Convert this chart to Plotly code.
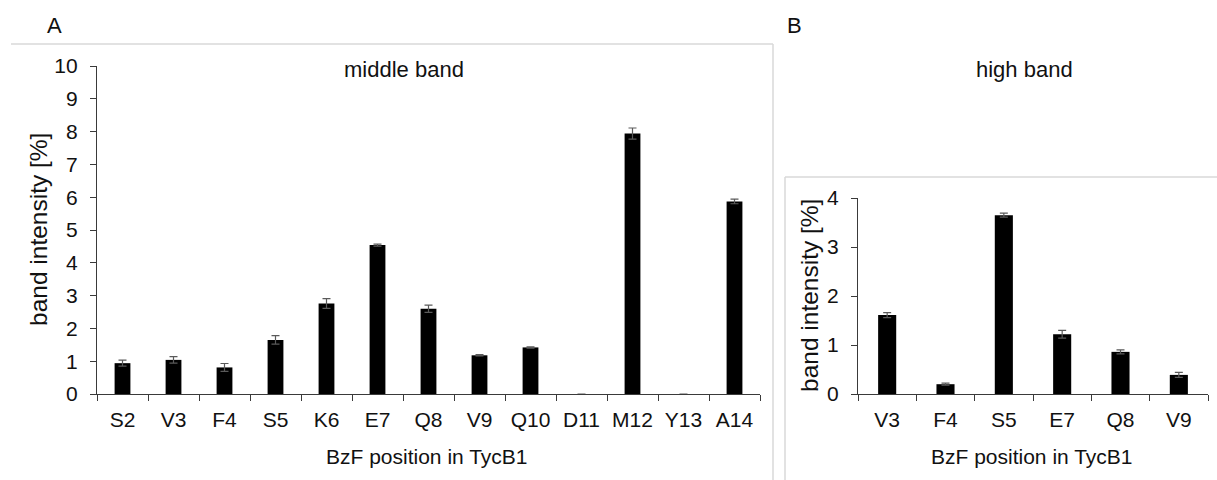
import plotly.graph_objects as go

# Panel A: middle band
cats_a = ["S2", "V3", "F4", "S5", "K6", "E7", "Q8", "V9", "Q10", "D11", "M12", "Y13", "A14"]
vals_a = [0.94, 1.04, 0.81, 1.65, 2.76, 4.54, 2.60, 1.18, 1.42, 0, 7.94, 0, 5.87]
err_a = [0.09, 0.10, 0.12, 0.13, 0.15, 0.03, 0.11, 0.02, 0.02, None, 0.17, None, 0.07]

# Panel B: high band
cats_b = ["V3", "F4", "S5", "E7", "Q8", "V9"]
vals_b = [1.61, 0.20, 3.65, 1.22, 0.86, 0.39]
err_b = [0.05, 0.02, 0.04, 0.08, 0.04, 0.05]

yticks_a = list(range(0, 11))
yticks_b = [0, 1, 2, 3, 4]

W, H = 1217, 480
FONT = "Liberation Sans, Arial, sans-serif"
AX = "#3a3a3a"
BOX = "#d9d9d9"

def px(x):
    return x / W

def py(y):
    return (H - y) / H

fig = go.Figure()
fig.add_trace(go.Bar(
    x=cats_a, y=vals_a, xaxis="x", yaxis="y",
    marker=dict(color="black", line=dict(width=0)),
    error_y=dict(type="data", array=err_a, visible=True, color="#5a5a5a", thickness=1.2, width=4),
    showlegend=False,
))
fig.add_trace(go.Bar(
    x=cats_b, y=vals_b, xaxis="x2", yaxis="y2",
    marker=dict(color="black", line=dict(width=0)),
    error_y=dict(type="data", array=err_b, visible=True, color="#5a5a5a", thickness=1.2, width=4),
    showlegend=False,
))

common_x = dict(type="category", tickson="boundaries", ticks="outside", ticklen=6,
                tickcolor=AX, tickwidth=1.3, showline=True, linecolor=AX, linewidth=1.3,
                showgrid=False, zeroline=False, tickfont=dict(family=FONT, size=21, color="#111"),
                ticklabelstandoff=7, fixedrange=True, automargin=False)
common_y = dict(ticks="outside", ticklen=6, tickcolor=AX, tickwidth=1.3, showline=True,
                linecolor=AX, linewidth=1.3, showgrid=False, zeroline=False,
                tickfont=dict(family=FONT, size=21, color="#111"), ticklabelstandoff=8,
                fixedrange=True, automargin=False)

fig.update_layout(
    width=W, height=H,
    margin=dict(l=0, r=0, t=0, b=0, pad=0, autoexpand=False),
    paper_bgcolor="white", plot_bgcolor="white",
    bargap=0.69,
    font=dict(family=FONT, color="#111"),
    xaxis=dict(domain=[px(97), px(760)], anchor="y", range=[-0.5, 12.5], **common_x),
    yaxis=dict(domain=[py(394), py(66)], anchor="x", range=[0, 10],
               tickvals=yticks_a, **common_y),
    xaxis2=dict(domain=[px(858), px(1208)], anchor="y2", range=[-0.5, 5.5], **common_x),
    yaxis2=dict(domain=[py(394), py(198)], anchor="x2", range=[0, 4],
                tickvals=yticks_b, **common_y),
    shapes=[
        dict(type="line", xref="paper", yref="paper", x0=px(11), x1=px(773), y0=py(44), y1=py(44),
             line=dict(color=BOX, width=1.5)),
        dict(type="line", xref="paper", yref="paper", x0=px(773), x1=px(773), y0=py(44), y1=0,
             line=dict(color=BOX, width=1.5)),
        dict(type="line", xref="paper", yref="paper", x0=px(785), x1=1, y0=py(177), y1=py(177),
             line=dict(color=BOX, width=1.5)),
        dict(type="line", xref="paper", yref="paper", x0=px(785), x1=px(785), y0=py(177), y1=0,
             line=dict(color=BOX, width=1.5)),
    ],
)

ann = []
def text(x, y, s, size, angle=0):
    ann.append(dict(x=px(x), y=py(y), xref="paper", yref="paper", text=s, showarrow=False,
                    xanchor="center", yanchor="middle", textangle=angle,
                    font=dict(family=FONT, size=size, color="#111")))

text(54.5, 25, "A", 22)
text(794.5, 25, "B", 22)
text(403.5, 69, "middle band", 22)
text(1024, 69, "high band", 22)
text(426.5, 456, "BzF position in TycB1", 21)
text(1032, 456, "BzF position in TycB1", 21)
text(39, 230, "band intensity [%]", 24.5, -90)
text(809, 296, "band intensity [%]", 24.5, -90)
fig.update_layout(annotations=ann)

fig.write_html("out.html")
